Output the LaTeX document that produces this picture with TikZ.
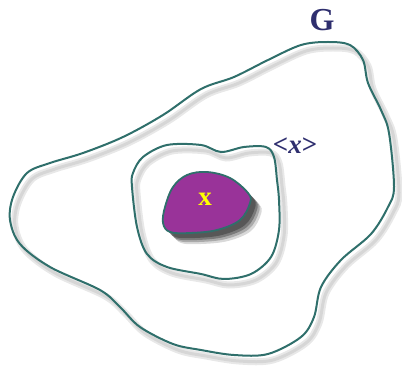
\documentclass[tikz,border=0pt]{standalone}
\usepackage{fontspec}
\setmainfont{Liberation Serif}
\usepackage{tikz}
\usetikzlibrary{positioning}
\definecolor{curveteal}{HTML}{2F6F6B}
\definecolor{labelnavy}{HTML}{2E2E6E}
\definecolor{blobpurple}{HTML}{993399}
\definecolor{xyellow}{HTML}{FFFF00}

\begin{document}
\begin{tikzpicture}[x=1pt,y=-1pt,
  region/.style={draw=curveteal,line width=2pt},
  haze/.style={draw=black!9,line width=7pt},
  lbl/.style={text=labelnavy,font=\bfseries,inner sep=0pt}]
  \useasboundingbox (0,0) rectangle (402,374);

  % soft shadows under the curves
  \begin{scope}[shift={(5,6)}]
    \draw[haze] plot[smooth cycle,tension=0.55] coordinates {(201,89) (234,77) (268,60) (301,45) (328,42) (350,45) (363,60) (368,83) (381,110) (389,133) (394,187) (388,207) (371,234) (341,260) (321,287) (314,317) (301,337) (268,354) (234,355) (201,350) (173,344) (140,327) (120,307) (100,290) (50,267) (20,244) (10,220) (13,197) (27,173) (50,163) (83,153) (123,137) (163,115)};
    \draw[haze] plot[smooth cycle,tension=0.55] coordinates {(201,145) (221,152) (244,147) (266,147) (274,157) (277,180) (279,200) (279,230) (271,257) (251,274) (224,279) (201,274) (167,267) (147,254) (137,227) (132,187) (133,173) (143,157) (167,145)};
  \end{scope}
  \begin{scope}[shift={(5,6)}]
    \draw[haze,draw=black!16,line width=3pt] plot[smooth cycle,tension=0.55] coordinates {(201,89) (234,77) (268,60) (301,45) (328,42) (350,45) (363,60) (368,83) (381,110) (389,133) (394,187) (388,207) (371,234) (341,260) (321,287) (314,317) (301,337) (268,354) (234,355) (201,350) (173,344) (140,327) (120,307) (100,290) (50,267) (20,244) (10,220) (13,197) (27,173) (50,163) (83,153) (123,137) (163,115)};
    \draw[haze,draw=black!16,line width=3pt] plot[smooth cycle,tension=0.55] coordinates {(201,145) (221,152) (244,147) (266,147) (274,157) (277,180) (279,200) (279,230) (271,257) (251,274) (224,279) (201,274) (167,267) (147,254) (137,227) (132,187) (133,173) (143,157) (167,145)};
  \end{scope}

  % G
  \draw[region] plot[smooth cycle,tension=0.55] coordinates {(201,89) (234,77) (268,60) (301,45) (328,42) (350,45) (363,60) (368,83) (381,110) (389,133) (394,187) (388,207) (371,234) (341,260) (321,287) (314,317) (301,337) (268,354) (234,355) (201,350) (173,344) (140,327) (120,307) (100,290) (50,267) (20,244) (10,220) (13,197) (27,173) (50,163) (83,153) (123,137) (163,115)};

  % <x>
  \draw[region] plot[smooth cycle,tension=0.55] coordinates {(201,145) (221,152) (244,147) (266,147) (274,157) (277,180) (279,200) (279,230) (271,257) (251,274) (224,279) (201,274) (167,267) (147,254) (137,227) (132,187) (133,173) (143,157) (167,145)};

  % x with its shadow
  \foreach \d/\o in {11/0.2,9/0.3,7/0.45,5/0.6}
    \fill[black!75,opacity=\o,shift={(\d,\d)}] plot[smooth cycle,tension=0.6] coordinates {(163,223) (165,207) (173,187) (187,175) (207,172) (230,178) (248,193) (250,203) (240,220) (217,230) (190,233) (170,232)};
  \filldraw[fill=blobpurple,draw=curveteal,line width=1.8pt] plot[smooth cycle,tension=0.6] coordinates {(163,223) (165,207) (173,187) (187,175) (207,172) (230,178) (248,193) (250,203) (240,220) (217,230) (190,233) (170,232)};

  \node[lbl,font=\bfseries\fontsize{32}{32}\selectfont] (G) at (322,20) {G};
  \node[lbl,font=\bfseries\fontsize{27}{27}\selectfont] (gx) at (295,146) {<\textit{x}>};
  \node[lbl,text=xyellow,font=\bfseries\fontsize{27}{27}\selectfont] (x) at (205,199) {x};
\end{tikzpicture}
\end{document}
